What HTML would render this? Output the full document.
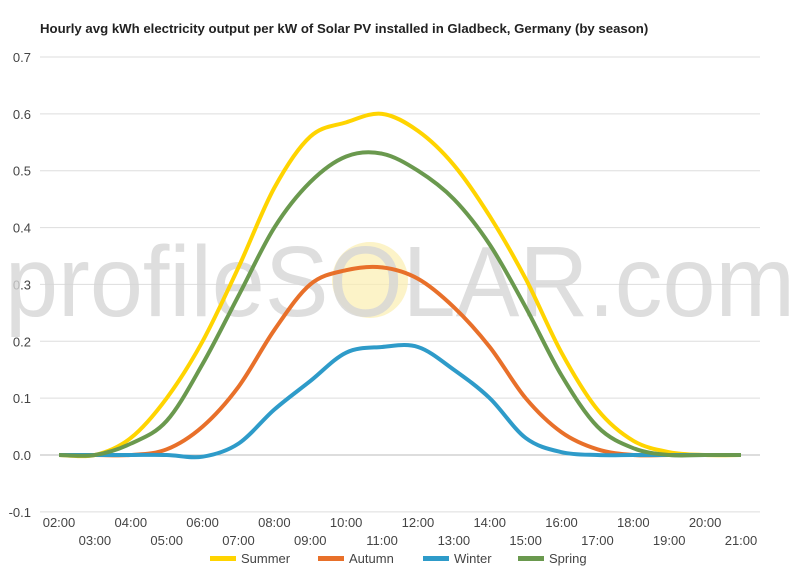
<!DOCTYPE html>
<html><head><meta charset="utf-8"><style>
body{margin:0;background:#fff;font-family:"Liberation Sans",sans-serif;}
svg{display:block}
</style></head><body>
<svg id="chart" width="800" height="570" viewBox="0 0 800 570">
<text x="40" y="33" font-size="13.2" font-weight="bold" fill="#222">Hourly avg kWh electricity output per kW of Solar PV installed in Gladbeck, Germany (by season)</text>
<g id="grid"></g>
<g>
<circle cx="370" cy="280" r="38" fill="#fbeeb0" opacity="0.7"/>
<text x="400" y="316" font-size="100" fill="#d6d6d6" opacity="0.8" text-anchor="middle" textLength="790" lengthAdjust="spacingAndGlyphs">profileSOLAR.com</text>
</g>
<g id="series"></g>
<g id="legend"></g>
</svg>
<script>
const hours=["02:00","03:00","04:00","05:00","06:00","07:00","08:00","09:00","10:00","11:00","12:00","13:00","14:00","15:00","16:00","17:00","18:00","19:00","20:00","21:00"];
const yTicks=[-0.1,0,0.1,0.2,0.3,0.4,0.5,0.6,0.7];
const summer=[0,0,0.03,0.1,0.2,0.33,0.47,0.56,0.585,0.6,0.57,0.51,0.42,0.31,0.18,0.08,0.025,0.005,0,0];
const autumn=[0,0,0,0.01,0.05,0.12,0.22,0.3,0.325,0.33,0.31,0.26,0.19,0.1,0.04,0.01,0,0,0,0];
const winter=[0,0,0,0,-0.003,0.02,0.08,0.13,0.18,0.19,0.19,0.15,0.1,0.03,0.005,0,0,0,0,0];
const spring=[0,0,0.02,0.06,0.16,0.28,0.4,0.48,0.525,0.53,0.5,0.45,0.37,0.26,0.14,0.05,0.012,0,0,0];
const seriesNames=["Summer","Autumn","Winter","Spring"];
const seriesData=[summer,autumn,winter,spring];
const colors=["#FFD400","#E8702A","#2E9BC9","#6A994E"];
const NS="http://www.w3.org/2000/svg";
const x=i=>59+i*(741-59)/(hours.length-1);
const y=v=>455-v*(455-57)/0.7;
const grid=document.getElementById('grid');
yTicks.forEach(t=>{
 const l=document.createElementNS(NS,'line');
 
 
 l.setAttribute('x1',40);l.setAttribute('x2',760);l.setAttribute('y1',y(t));l.setAttribute('y2',y(t));
 l.setAttribute('stroke',t===0?'#bbb':'#ddd');l.setAttribute('stroke-width',1);
 grid.appendChild(l);
 const tx=document.createElementNS(NS,'text');
 
 
 tx.setAttribute('x',31);tx.setAttribute('y',y(t)+5);tx.setAttribute('text-anchor','end');
 tx.setAttribute('font-size',13);tx.setAttribute('fill','#444');
 tx.textContent=t.toFixed(1);grid.appendChild(tx);
});
hours.forEach((h,i)=>{
 const tx=document.createElementNS(NS,'text');
 
 
 tx.setAttribute('x',x(i));tx.setAttribute('y',i%2===0?527:545);tx.setAttribute('text-anchor','middle');
 tx.setAttribute('font-size',13);tx.setAttribute('fill','#444');
 tx.textContent=h;grid.appendChild(tx);
});
function pathFor(d){
 const p=d.map((v,i)=>[x(i),y(v)]);
 let s='M'+p[0][0]+','+p[0][1];
 for(let i=0;i<p.length-1;i++){
  const p0=p[Math.max(i-1,0)],p1=p[i],p2=p[i+1],p3=p[Math.min(i+2,p.length-1)];
  const c1=[p1[0]+(p2[0]-p0[0])/6,p1[1]+(p2[1]-p0[1])/6];
  const c2=[p2[0]-(p3[0]-p1[0])/6,p2[1]-(p3[1]-p1[1])/6];
  s+=' C'+c1+' '+c2+' '+p2;
 }
 return s;
}
const sg=document.getElementById('series');
const lg=document.getElementById('legend');
const lx=[210,318,423,518];
seriesData.forEach((d,k)=>{
 const p=document.createElementNS(NS,'path');
 
 
 p.setAttribute('d',pathFor(d));p.setAttribute('fill','none');
 p.setAttribute('stroke',colors[k]);p.setAttribute('stroke-width',4);p.setAttribute('stroke-linejoin','round');
 sg.appendChild(p);
 const g=document.createElementNS(NS,'g');
 
 
 const r=document.createElementNS(NS,'rect');
 r.setAttribute('x',lx[k]);r.setAttribute('y',556);r.setAttribute('width',26);r.setAttribute('height',5);r.setAttribute('fill',colors[k]);
 g.appendChild(r);
 const t=document.createElementNS(NS,'text');
 t.setAttribute('x',lx[k]+31);t.setAttribute('y',563);t.setAttribute('font-size',13);t.setAttribute('fill','#444');
 t.textContent=seriesNames[k];g.appendChild(t);
 lg.appendChild(g);
});
</script>
</body></html>
